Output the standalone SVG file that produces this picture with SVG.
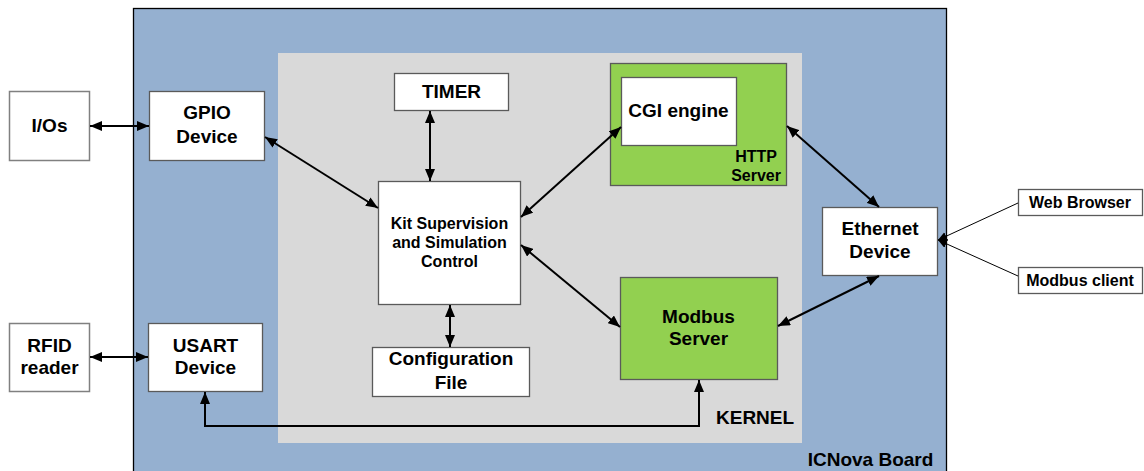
<svg xmlns="http://www.w3.org/2000/svg" width="1144" height="471" viewBox="0 0 1144 471">
  <style>
    .box { fill: #ffffff; stroke: #5a5a5a; stroke-width: 1.3; }
    .ext { fill: #ffffff; stroke: #808080; stroke-width: 1.5; }
    .green { fill: #92d050; stroke: #5a5a5a; stroke-width: 1.3; }
    .lbl { font-family: "Liberation Sans", Arial, sans-serif; font-weight: bold; font-size: 19px; fill: #000; text-anchor: middle; }
    .mid { font-size: 16px; }
    .sm { font-size: 16px; }
    .wire { fill: none; stroke: #000; stroke-width: 2; marker-start: url(#ah); marker-end: url(#ah); }
    .thin { fill: none; stroke: #000; stroke-width: 1; marker-end: url(#ahs); }
  </style>
  <defs>
    <marker id="ah" viewBox="0 0 12 10" refX="12" refY="5" markerWidth="12" markerHeight="10" markerUnits="userSpaceOnUse" orient="auto-start-reverse">
      <path d="M0,0 L12,5 L0,10 z" fill="#000"/>
    </marker>
    <marker id="ahs" viewBox="0 0 10 10" refX="10" refY="5" markerWidth="9" markerHeight="9" markerUnits="userSpaceOnUse" orient="auto">
      <path d="M0,0 L10,5 L0,10 z" fill="#000"/>
    </marker>
  </defs>

  <!-- board and kernel areas -->
  <g id="board">
    <rect x="133.5" y="8.5" width="813" height="470" fill="#95b0d0" stroke="#000" stroke-width="1.3"/>
    <text class="lbl" x="870.5" y="466">ICNova Board</text>
  </g>
  <g id="kernel">
    <rect x="278" y="53" width="524" height="390" fill="#d9d9d9"/>
    <text class="lbl" x="716" y="424" style="text-anchor:start">KERNEL</text>
  </g>

  <!-- external devices -->
  <g id="ios">
    <rect class="ext" x="9.5" y="91.5" width="80" height="69"/>
    <text class="lbl" x="49.5" y="132">I/Os</text>
  </g>
  <g id="rfid">
    <rect class="ext" x="9.5" y="323.5" width="80" height="68"/>
    <text class="lbl" x="49.5" y="352">RFID</text>
    <text class="lbl" x="49.5" y="374">reader</text>
  </g>
  <g id="web-browser">
    <rect class="box" x="1018.5" y="189.5" width="124" height="26"/>
    <text class="lbl sm" x="1080" y="207.5">Web Browser</text>
  </g>
  <g id="modbus-client">
    <rect class="box" x="1018.5" y="267.5" width="124" height="26"/>
    <text class="lbl sm" x="1080" y="285.5">Modbus client</text>
  </g>

  <!-- board devices -->
  <g id="gpio">
    <rect class="box" x="149.5" y="91.5" width="115" height="69"/>
    <text class="lbl" x="207" y="119">GPIO</text>
    <text class="lbl" x="207" y="143">Device</text>
  </g>
  <g id="usart">
    <rect class="box" x="148.5" y="323.5" width="114" height="68"/>
    <text class="lbl" x="205.5" y="352">USART</text>
    <text class="lbl" x="205.5" y="374">Device</text>
  </g>
  <g id="ethernet">
    <rect class="box" x="822.5" y="207.5" width="115" height="68"/>
    <text class="lbl" x="880" y="235">Ethernet</text>
    <text class="lbl" x="880" y="257.5">Device</text>
  </g>

  <!-- kernel components -->
  <g id="timer">
    <rect class="box" x="394.5" y="73.5" width="114" height="37"/>
    <text class="lbl" x="451.5" y="98">TIMER</text>
  </g>
  <g id="kit">
    <rect class="box" x="378.5" y="181.5" width="142" height="123"/>
    <text class="lbl mid" x="449.5" y="229">Kit Supervision</text>
    <text class="lbl mid" x="449.5" y="248">and Simulation</text>
    <text class="lbl mid" x="449.5" y="267">Control</text>
  </g>
  <g id="config">
    <rect class="box" x="372.5" y="347.5" width="157" height="49"/>
    <text class="lbl" x="451" y="365">Configuration</text>
    <text class="lbl" x="451" y="388.5">File</text>
  </g>
  <g id="http-server">
    <rect class="green" x="610.5" y="63.5" width="176" height="122"/>
    <rect class="box" x="621.5" y="77.5" width="115" height="68"/>
    <text class="lbl" x="678.5" y="117">CGI engine</text>
    <text class="lbl sm" x="777" y="162" style="text-anchor:end">HTTP</text>
    <text class="lbl sm" x="781" y="181" style="text-anchor:end">Server</text>
  </g>
  <g id="modbus-server">
    <rect class="green" x="620.5" y="277.5" width="157" height="102"/>
    <text class="lbl" x="698.5" y="323">Modbus</text>
    <text class="lbl" x="698.5" y="345">Server</text>
  </g>

  <!-- connectors -->
  <g id="connectors">
    <line class="wire" x1="90" y1="126" x2="149" y2="126"/>
    <line class="wire" x1="90" y1="357" x2="148" y2="357"/>
    <line class="wire" x1="265" y1="137" x2="378" y2="208"/>
    <line class="wire" x1="430" y1="111" x2="430" y2="181"/>
    <line class="wire" x1="450" y1="305" x2="450" y2="347"/>
    <line class="wire" x1="521" y1="217" x2="621" y2="127"/>
    <line class="wire" x1="521" y1="245" x2="620" y2="327"/>
    <line class="wire" x1="787" y1="126" x2="879" y2="207"/>
    <line class="wire" x1="778" y1="326" x2="879" y2="276"/>
    <polyline class="wire" points="205,392 205,426 699,426 699,380"/>
    <line class="thin" x1="1018" y1="203" x2="938" y2="240"/>
    <line class="thin" x1="1018" y1="276" x2="938" y2="240"/>
  </g>
</svg>
